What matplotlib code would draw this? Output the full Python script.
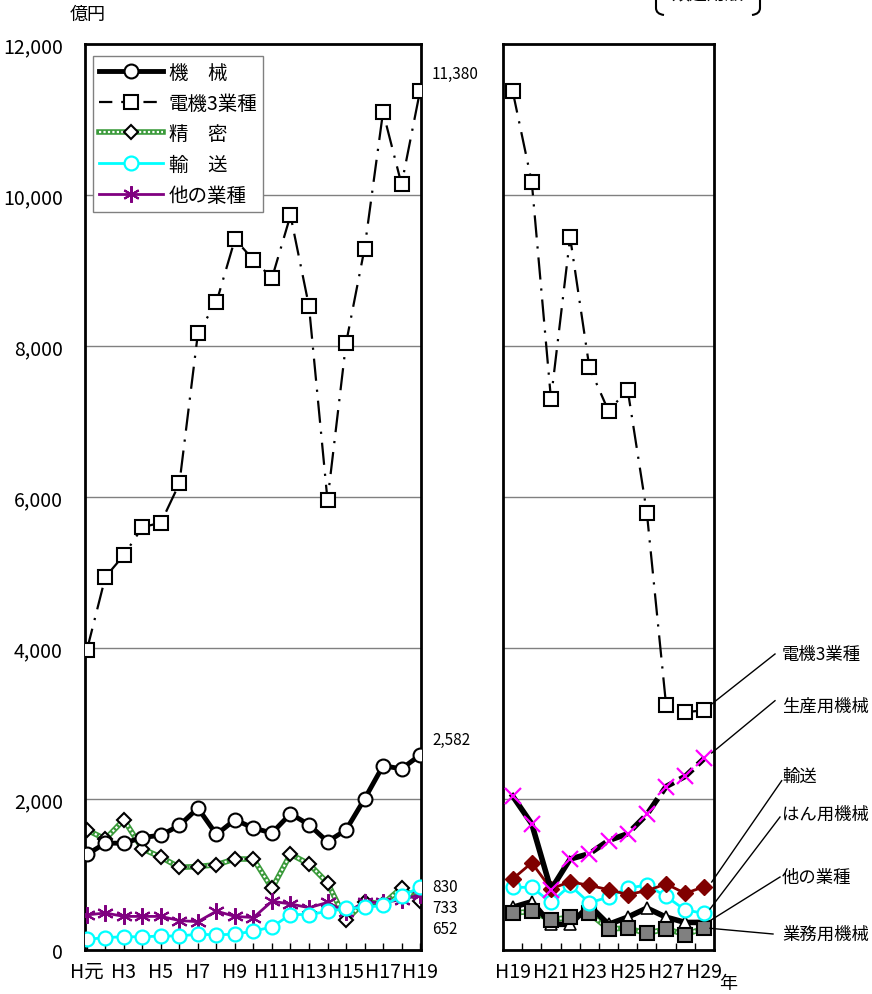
import matplotlib
matplotlib.use('Agg')
import matplotlib.pyplot as plt
from matplotlib.lines import Line2D
from matplotlib.path import Path
import matplotlib.patches as mpatches

plt.rcParams['font.family'] = ['Noto Sans CJK JP', 'DejaVu Sans']

# ---------------- data ----------------
left_tick_labels = ['H元', 'H3', 'H5', 'H7', 'H9', 'H11', 'H13', 'H15', 'H17', 'H19']
kikai    = [1265, 1415, 1415, 1490, 1520, 1650, 1880, 1530, 1725, 1615, 1550, 1805, 1660, 1435, 1590, 2000, 2440, 2400, 2582]
denki_L  = [3970, 4940, 5230, 5600, 5660, 6180, 8170, 8580, 9415, 9140, 8900, 9730, 8525, 5955, 8035, 9290, 11100, 10140, 11380]
seimitsu = [1590, 1470, 1725, 1340, 1230, 1095, 1105, 1130, 1205, 1205, 815, 1270, 1140, 890, 395, 640, 610, 825, 652]
yuso_L   = [140, 165, 175, 175, 185, 185, 210, 200, 210, 250, 305, 470, 470, 510, 550, 565, 590, 715, 830]
other_L  = [465, 490, 445, 445, 445, 390, 375, 515, 445, 430, 645, 610, 560, 630, 500, 630, 630, 665, 733]

right_tick_labels = ['H19', 'H21', 'H23', 'H25', 'H27', 'H29']
denki_R = [11380, 10170, 7300, 9440, 7720, 7140, 7420, 5790, 3250, 3150, 3175]
seisan  = [2040, 1670, 800, 1205, 1275, 1450, 1540, 1795, 2165, 2300, 2540]
hanyo   = [940, 1155, 810, 905, 855, 800, 735, 785, 875, 750, 840]
yuso_R  = [830, 830, 630, 855, 625, 700, 820, 860, 710, 530, 485]
other_R = [565, 640, 340, 340, 590, 340, 435, 555, 435, 365, 365]
gyomu   = [490, 510, 400, 435, 485, 280, 290, 220, 280, 205, 290]

y_ticks = [0, 2000, 4000, 6000, 8000, 10000, 12000]
y_tick_labels = ['0', '2,000', '4,000', '6,000', '8,000', '10,000', '12,000']

legend_labels = ['機\u3000械', '電機3業種', '精\u3000密', '輸\u3000送', '他の業種']
right_labels = ['電機3業種', '生産用機械', '輸送', 'はん用機械', '他の業種', '業務用機械']

# ---------------- figure ----------------
W, H = 872, 995
fig = plt.figure(figsize=(W / 100, H / 100), dpi=100)


def rect(x0, y0, x1, y1):
    return [x0 / W, 1 - y1 / H, (x1 - x0) / W, (y1 - y0) / H]


def fp(x, y):
    return (x / W, 1 - y / H)


axL = fig.add_axes(rect(85, 45, 421, 951))
axR = fig.add_axes(rect(503, 45, 714, 951))

GREEN = '#3a9a3a'
CYAN = '#00FFFF'
PURPLE = '#800080'
DRED = '#800000'
MAG = '#FF00FF'
DASHDOT = (0, (10, 4, 1, 4))

for ax in (axL, axR):
    ax.set_ylim(0, 12000)
    ax.set_yticks(y_ticks)
    for v in y_ticks[1:-1]:
        ax.axhline(v, color='#808080', lw=1, zorder=0)
    for s in ax.spines.values():
        s.set_linewidth(2)
        s.set_color('black')
    ax.tick_params(axis='y', length=0)
    ax.tick_params(axis='x', direction='in', length=5, width=1, labelsize=14, pad=8)

# ---------- left panel ----------
xl = list(range(len(kikai)))
axL.set_xlim(-0.1, 18.05)
axL.set_yticklabels(y_tick_labels, fontsize=14)
axL.tick_params(axis='y', pad=16)
axL.set_xticks(xl)
axL.set_xticklabels([left_tick_labels[i // 2] if i % 2 == 0 else '' for i in xl])

# 精密 (patterned green line)
axL.plot(xl, seimitsu, color=GREEN, lw=4, zorder=2)
axL.plot(xl, seimitsu, color='white', lw=1.6, ls=(0, (1, 1)), zorder=2.1)
axL.plot(xl, seimitsu, ls='none', marker='D', ms=7, mfc='white', mec='black', mew=1.5, zorder=2.2)
# 他の業種
axL.plot(xl, other_L, color=PURPLE, lw=2, marker=(6, 2, 0), ms=12, mec=PURPLE, mew=1.5, zorder=3)
# 輸送
axL.plot(xl, yuso_L, color=CYAN, lw=2, marker='o', ms=10, mfc='white', mec=CYAN, mew=1.6, zorder=4)
# 機械
axL.plot(xl, kikai, color='black', lw=3.5, marker='o', ms=10, mfc='white', mec='black', mew=1.5, zorder=5)
# 電機3業種
axL.plot(xl, denki_L, color='black', lw=1.6, ls=DASHDOT, zorder=6)
axL.plot(xl, denki_L, ls='none', marker='s', ms=9.5, mfc='white', mec='black', mew=1.5, zorder=6.1)

# value labels
lab_kw = dict(textcoords='offset pixels', fontsize=11, ha='left', va='center', annotation_clip=False)
axL.annotate('11,380', xy=(18, denki_L[-1]), xytext=(12, 17), **lab_kw)
axL.annotate('2,582', xy=(18, kikai[-1]), xytext=(12, 16), **lab_kw)
axL.annotate('830', xy=(18, yuso_L[-1]), xytext=(12, 1), **lab_kw)
axL.annotate('733', xy=(18, other_L[-1]), xytext=(12, -13), **lab_kw)
axL.annotate('652', xy=(18, seimitsu[-1]), xytext=(12, -28), **lab_kw)

# legend
h_kikai = Line2D([], [], color='black', lw=3.5, marker='o', ms=10, mfc='white', mec='black', mew=1.5)
h_denki = Line2D([], [], color='black', lw=1.6, ls=(0, (6, 4)), marker='s', ms=9.5, mfc='white', mec='black', mew=1.5)
h_sei1 = Line2D([], [], color=GREEN, lw=4)
h_sei2 = Line2D([], [], color='white', lw=1.6, ls=(0, (1, 1)))
h_sei3 = Line2D([], [], ls='none', marker='D', ms=7, mfc='white', mec='black', mew=1.5)
h_yuso = Line2D([], [], color=CYAN, lw=2, marker='o', ms=10, mfc='white', mec=CYAN, mew=1.6)
h_other = Line2D([], [], color=PURPLE, lw=2, marker=(6, 2, 0), ms=12, mec=PURPLE, mew=1.5)
leg = axL.legend([h_kikai, h_denki, (h_sei1, h_sei2, h_sei3), h_yuso, h_other], legend_labels,
                 loc='upper left', bbox_to_anchor=fp(93, 57), bbox_transform=fig.transFigure,
                 fontsize=14, handlelength=3.3, labelspacing=0.5, handletextpad=0.3,
                 borderpad=0.3, borderaxespad=0, fancybox=False, framealpha=1)
leg.get_frame().set_edgecolor('#808080')
leg.get_frame().set_linewidth(1)

# ---------- right panel ----------
xr = list(range(len(denki_R)))
axR.set_xlim(-0.5, 10.5)
axR.set_yticklabels([])
axR.set_xticks([i + 0.5 for i in range(10)], minor=False)
axR.set_xticklabels([])
axR.set_xticks(xr, minor=True)
axR.set_xticklabels([right_tick_labels[i // 2] if i % 2 == 0 else '' for i in xr], minor=True)
axR.tick_params(axis='x', which='minor', length=0, labelsize=14, pad=8)

# 業務用機械 green pattern line
axR.plot(xr, gyomu, color=GREEN, lw=4, zorder=2)
axR.plot(xr, gyomu, color='white', lw=1.6, ls=(0, (1, 1)), zorder=2.1)
# 他の業種 (thick black + white triangles)
axR.plot(xr, other_R, color='black', lw=4, marker='^', ms=9, mfc='white', mec='black', mew=1.2, zorder=3)
# 業務用機械 markers
axR.plot(xr, gyomu, ls='none', marker='s', ms=10.5, mfc='#808080', mec='black', mew=1.5, zorder=3.5)
# 輸送
axR.plot(xr, yuso_R, color=CYAN, lw=2, marker='o', ms=10, mfc='white', mec=CYAN, mew=1.6, zorder=4)
# はん用機械
axR.plot(xr, hanyo, color=DRED, lw=2, marker='D', ms=8, mfc=DRED, mec=DRED, zorder=5)
# 生産用機械
axR.plot(xr[:4], seisan[:4], color='black', lw=4, zorder=6)
axR.plot(xr[3:], seisan[3:], color='black', lw=4, ls=(0, (3, 1.2)), zorder=6)
axR.plot(xr, seisan, ls='none', marker='x', ms=11, mec=MAG, mew=1.6, zorder=6.1)
# 電機3業種
axR.plot(xr, denki_R, color='black', lw=1.6, ls=DASHDOT, zorder=7)
axR.plot(xr, denki_R, ls='none', marker='s', ms=9.5, mfc='white', mec='black', mew=1.5, zorder=7.1)

# right side labels and leader lines
label_y = [655, 707, 777, 815, 878, 935]
leaders = [((775, 655), (711.7, 705)),
           ((775, 701.7), (711.7, 754)),
           ((781.7, 781.7), (711.7, 883)),
           ((780, 818), (710, 910)),
           ((780, 878), (710, 921.7)),
           ((773, 935), (710, 929.3))]
for lab, ly, (p0, p1) in zip(right_labels, label_y, leaders):
    fig.text(782 / W, 1 - ly / H, lab, fontsize=12.5, ha='left', va='center')
    a, b = fp(*p0), fp(*p1)
    fig.add_artist(Line2D([a[0], b[0]], [a[1], b[1]], color='black', lw=1, transform=fig.transFigure))

# axis unit texts
fig.text(88 / W, 1 - 15 / H, '億円', fontsize=13, ha='center', va='center')
fig.text(728 / W, 1 - 984 / H, '年', fontsize=13, ha='center', va='center')

# top-right cropped bracket caption
fig.text(707 / W, 1 + 5 / H, '類過用版', fontsize=13, ha='center', va='center')
verts_l = [fp(656, 0), fp(656, 9), fp(656, 15), fp(664, 16)]
verts_r = [fp(760, 0), fp(760, 9), fp(760, 15), fp(752, 16)]
codes = [Path.MOVETO, Path.LINETO, Path.CURVE3, Path.CURVE3]
for v in (verts_l, verts_r):
    fig.add_artist(mpatches.PathPatch(Path(v, codes), fill=False, lw=1.5, ec='black',
                                      transform=fig.transFigure))

fig.savefig('out.png', dpi=100)
